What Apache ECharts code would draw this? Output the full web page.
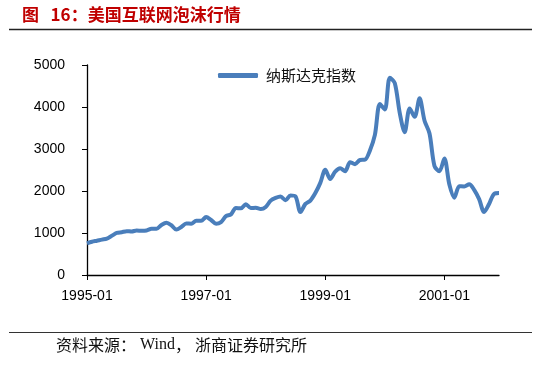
<!DOCTYPE html>
<html><head><meta charset="utf-8">
<script src="https://cdn.jsdelivr.net/npm/echarts@6/dist/echarts.min.js"></script>
<style>html,body{margin:0;padding:0;background:#fff}#c{width:550px;height:374px}</style>
</head><body><div id="c"></div>
<script>
var years = ['1995','1996','1997','1998','1999','2000','2001'];
var months = ['01','02','03','04','05','06','07','08','09','10','11','12'];
var categories = [];
years.forEach(function(y){ months.forEach(function(m){ categories.push(y + '-' + m); }); });
var nasdaq = [
  755, 793, 817, 843, 865, 933, 1001, 1020, 1044, 1036, 1059, 1052,
  1060, 1100, 1101, 1191, 1243, 1185, 1081, 1141, 1226, 1222, 1293, 1291,
  1380, 1310, 1222, 1261, 1400, 1443, 1594, 1587, 1686, 1594, 1601, 1570,
  1619, 1771, 1835, 1868, 1779, 1895, 1872, 1499, 1694, 1772, 1950, 2193,
  2506, 2288, 2461, 2543, 2471, 2686, 2638, 2739, 2746, 2966, 3336, 4069,
  3940, 4696, 4573, 3861, 3401, 3966, 3767, 4206, 3673, 3370, 2598, 2471,
  2773, 2152, 1840, 2116, 2110, 2161, 2027, 1805, 1499, 1690, 1931, 1950
];
var seriesName = '纳斯达克指数';
var titleText = '图   16：美国互联网泡沫行情';
var sourceParts = ['资料来源', '：', 'Wind', '，', '浙商证券研究所'];
var xTickLabels = ['1995-01','1997-01','1999-01','2001-01'];

var chart = echarts.init(document.getElementById('c'), null, {renderer:'canvas'});
chart.setOption({
  backgroundColor:'#fff',
  animation:false,
  title:{text:titleText, left:17, top:1, padding:[5,5],
    textStyle:{color:'#C00000', fontSize:17, fontWeight:'bold', fontFamily:'"Noto Sans CJK SC", sans-serif'}},
  graphic:[
    {type:'line', shape:{x1:9,y1:29.5,x2:532,y2:29.5}, style:{stroke:'#222', lineWidth:1.6}},
    {type:'line', shape:{x1:9,y1:332.5,x2:532,y2:332.5}, style:{stroke:'#333', lineWidth:1}},
    {type:'text', left:56, top:337, style:{
      text:'{a|' + sourceParts[0] + '}{p|' + sourceParts[1] + '}{b|' + sourceParts[2] + '}{p|' + sourceParts[3] + '}{a|' + sourceParts[4] + '}',
      rich:{
        a:{fontSize:16, fontFamily:'"Noto Sans CJK SC", sans-serif', fill:'#111', color:'#111'},
        p:{fontSize:16, width:20, fontFamily:'"Noto Sans CJK SC", sans-serif', fill:'#111', color:'#111'},
        b:{fontSize:16, fontFamily:'"Liberation Serif", serif', fill:'#111', color:'#111'}
      }}}
  ],
  legend:{data:[seriesName], left:213, top:63, itemWidth:40, itemHeight:5, itemGap:8, icon:'roundRect',
    textStyle:{fontSize:15, color:'#111', fontFamily:'"Noto Sans CJK SC", sans-serif', padding:[0,0,0,3]}},
  grid:{left:87, right:51, top:65, bottom:99},
  xAxis:{type:'category', data:categories, boundaryGap:false,
    axisLine:{lineStyle:{color:'#000', width:1.3}},
    axisTick:{show:true, length:5, lineStyle:{color:'#000'},
      interval:function(i,v){ return xTickLabels.indexOf(v) >= 0; }},
    axisLabel:{margin:14, fontSize:14, color:'#000', fontFamily:'"Liberation Sans", Arial, sans-serif',
      interval:function(i,v){ return xTickLabels.indexOf(v) >= 0; }},
    splitLine:{show:false}},
  yAxis:{type:'value', min:0, max:5000, interval:1000,
    axisLine:{show:true, lineStyle:{color:'#000', width:1.3}},
    axisTick:{show:true, length:5, lineStyle:{color:'#000'}},
    axisLabel:{margin:22, fontSize:14, color:'#000', fontFamily:'"Liberation Sans", Arial, sans-serif',
      formatter:function(v){ return String(v); }},
    splitLine:{show:false}},
  series:[{name:seriesName, type:'line', data:nasdaq, smooth:0.3, showSymbol:false,
    lineStyle:{color:'#4A7EBB', width:4}, itemStyle:{color:'#4A7EBB'}}]
});
</script></body></html>
